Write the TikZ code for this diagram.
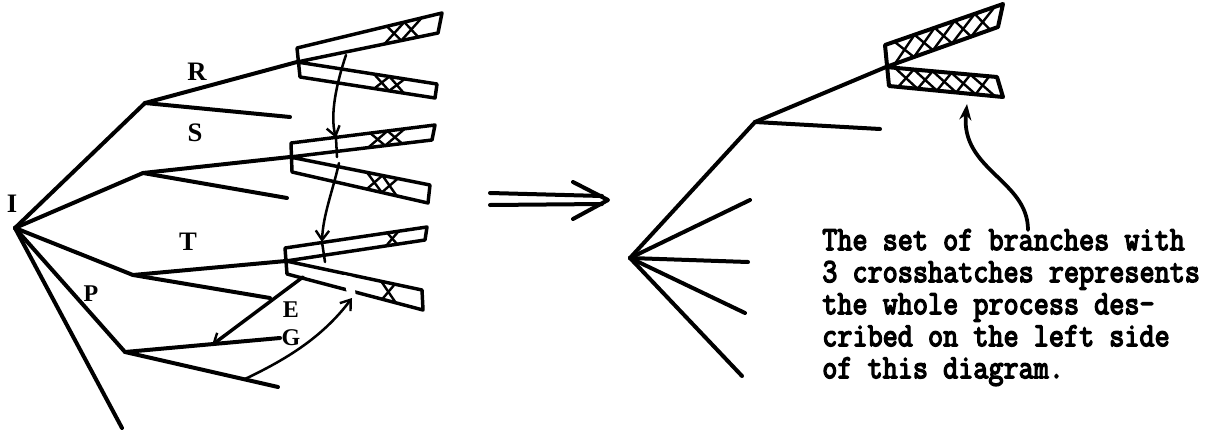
\documentclass[tikz,border=0pt]{standalone}
\usepackage{fontspec}
\setmainfont{Liberation Serif}
\newfontfamily\twfont[FakeBold=4.5]{Latin Modern Mono}
\usetikzlibrary{arrows.meta,calc}
\newcommand\hatcharm[5]{%
  \foreach \ha/\hb in {#5}{%
    \draw[hatch] ($(#1)!\ha!(#2)$) -- ($(#4)!\hb!(#3)$);
    \draw[hatch] ($(#4)!\ha!(#3)$) -- ($(#1)!\hb!(#2)$);
  }}
\begin{document}
\begin{tikzpicture}[x=0.75pt,y=-0.75pt, line join=round, line cap=round,
  br/.style={line width=3pt},
  outl/.style={line width=2.6pt},
  hatch/.style={line width=1.8pt},
  lblb/.style={font=\fontsize{20}{20}\selectfont\bfseries, inner sep=0pt},
  lbln/.style={font=\fontsize{18}{18}\selectfont\bfseries, inner sep=0pt},
  barb/.style={-{Straight Barb[length=7pt,width=10pt,line width=1.8pt]}, line width=1.9pt},
  solidhead/.style={-{Stealth[length=12pt,width=9pt]}, line width=2.8pt}]
\useasboundingbox (0,0) rectangle (1221,439);

% ---------- left tree ----------
\coordinate (I0) at (15,228);
\coordinate (Rn) at (145,103);
\coordinate (Sn) at (143,173);
\coordinate (Tn) at (133,275);
\coordinate (Pn) at (125,352);
\coordinate (Bend) at (122,428);
\coordinate (Rs) at (290,117);
\coordinate (Ss) at (287,198);
\coordinate (Es) at (270,298);
\coordinate (Gs) at (280,338);
\coordinate (Pe) at (278,387);
\coordinate (Pst) at ($(Pn)!0.78!(Pe)$);

% shapes
\coordinate (A1) at (297,48);  \coordinate (B1) at (442,13);  \coordinate (C1) at (438,33);
\coordinate (V1) at (297,62);  \coordinate (D1) at (437,84);  \coordinate (E1) at (435,98);
\coordinate (F1) at (300,77);
\coordinate (A2) at (291,143); \coordinate (B2) at (435,125); \coordinate (C2) at (432,140);
\coordinate (V2) at (290,157); \coordinate (D2) at (430,185); \coordinate (E2) at (428,203);
\coordinate (F2) at (292,172);
\coordinate (A3) at (285,248); \coordinate (B3) at (427,227); \coordinate (C3) at (425,240);
\coordinate (V3) at (286,261); \coordinate (D3) at (422,290); \coordinate (E3) at (423,310);
\coordinate (F3) at (287,274);

\draw[br] (I0) -- (Rn) -- (V1);
\draw[br] (Rn) -- (Rs);
\draw[br] (I0) -- (Sn) -- (V2);
\draw[br] (Sn) -- (Ss);
\draw[br] (I0) -- (Tn) -- (V3);
\draw[br] (Tn) -- (Es);
\draw[br] (I0) -- (Pn) -- (Gs);
\draw[br] (Pn) -- (Pe);
\draw[br] (I0) -- (Bend);

\draw[outl] (A1) -- (B1) -- (C1) -- (V1) -- (D1) -- (E1) -- (F1) -- cycle;
\draw[outl] (A2) -- (B2) -- (C2) -- (V2) -- (D2) -- (E2) -- (F2) -- cycle;
\draw[outl] (A3) -- (B3) -- (C3) -- (V3) -- (D3) -- (E3) -- (F3) -- cycle;

\hatcharm{A1}{B1}{C1}{V1}{0.62/0.74,0.74/0.86}
\hatcharm{V1}{D1}{E1}{F1}{0.55/0.66,0.66/0.77}
\hatcharm{A2}{B2}{C2}{V2}{0.55/0.67,0.67/0.79}
\hatcharm{V2}{D2}{E2}{F2}{0.55/0.66,0.66/0.77}
\hatcharm{A3}{B3}{C3}{V3}{0.72/0.8}
\hatcharm{V3}{D3}{E3}{F3}{0.7/0.8}
% break in the lower arm of the T shape
\fill[white] (344,275) -- (353,277) -- (356,297) -- (347,295) -- cycle;

% labels
\node[lblb] (lI) at (12,204) {I};
\node[lblb] (lR) at (197,72) {R};
\node[lblb] (lS) at (195,133) {S};
\node[lblb] (lT) at (188,242) {T};
\node[lbln] (lE) at (291,310) {E};
\node[lbln] (lG) at (291,338) {G};
\node[lbln] (lP) at (91,294) {P};

% arrows on the left
\coordinate (a1s) at (346,55);
\coordinate (a1t) at (336,138);
\coordinate (a1e) at (337,157);
\draw[barb] (a1s) .. controls (336,85) and (330,115) .. (a1t);
\draw[line width=1.9pt] (a1t) -- (a1e);
\coordinate (a2s) at (339,163);
\coordinate (a2t) at (322,242);
\coordinate (a2e) at (325,262);
\draw[barb] (a2s) .. controls (333,190) and (323,215) .. (a2t);
\draw[line width=1.9pt] (a2t) -- (a2e);
\coordinate (eas) at (303,277);
\coordinate (eat) at (212,345);
\draw[barb, line width=2.6pt] (eas) -- (eat);
\coordinate (cat) at (352,298);
\draw[barb] (Pst) .. controls (285,360) and (322,338) .. (cat);

% ---------- double arrow ----------
\coordinate (d1) at (490,193); \coordinate (d2) at (602,196);
\coordinate (d3) at (490,205); \coordinate (d4) at (602,204);
\coordinate (h1) at (573,182); \coordinate (h2) at (608,200); \coordinate (h3) at (573,219);
\draw[br] (d1) -- (d2);
\draw[br] (d3) -- (d4);
\draw[br] (h1) -- (h2) -- (h3);

% ---------- right tree ----------
\coordinate (R0) at (630,258);
\coordinate (Rn2) at (755,122);
\coordinate (Rs2) at (880,129);
\coordinate (e1) at (750,200);
\coordinate (e2) at (748,262);
\coordinate (e3) at (745,313);
\coordinate (e4) at (742,376);
\coordinate (A4) at (885,45);  \coordinate (B4) at (1003,4);  \coordinate (C4) at (998,27);
\coordinate (V4) at (886,67);  \coordinate (D4) at (997,77);  \coordinate (E4) at (1003,97);
\coordinate (F4) at (889,86);
\draw[br] (R0) -- (Rn2) -- (V4);
\draw[br] (Rn2) -- (Rs2);
\draw[br] (R0) -- (e1);
\draw[br] (R0) -- (e2);
\draw[br] (R0) -- (e3);
\draw[br] (R0) -- (e4);
\draw[outl, line width=3pt] (A4) -- (B4) -- (C4) -- (V4) -- (D4) -- (E4) -- (F4) -- cycle;
\hatcharm{A4}{B4}{C4}{V4}{0.08/0.25,0.25/0.42,0.42/0.59,0.59/0.76,0.76/0.93}
\hatcharm{V4}{D4}{E4}{F4}{0.08/0.25,0.25/0.42,0.42/0.59,0.59/0.76,0.76/0.93}

\node[anchor=base west, inner sep=0pt] (txt) at (822,250) {\scalebox{1}[1.15]{%
  \twfont\fontsize{22}{20.9}\selectfont
  \begin{tabular}[t]{@{}l@{}}
  The set of branches with\\
  3 crosshatches represents\\
  the whole process des-\\
  cribed on the left side\\
  of this diagram.
  \end{tabular}}};
\coordinate (rat) at (967,104);
\coordinate (ras) at (1028,230);
\draw[solidhead] (ras) .. controls (1028,180) and (960,170) .. (rat);
\end{tikzpicture}
\end{document}
